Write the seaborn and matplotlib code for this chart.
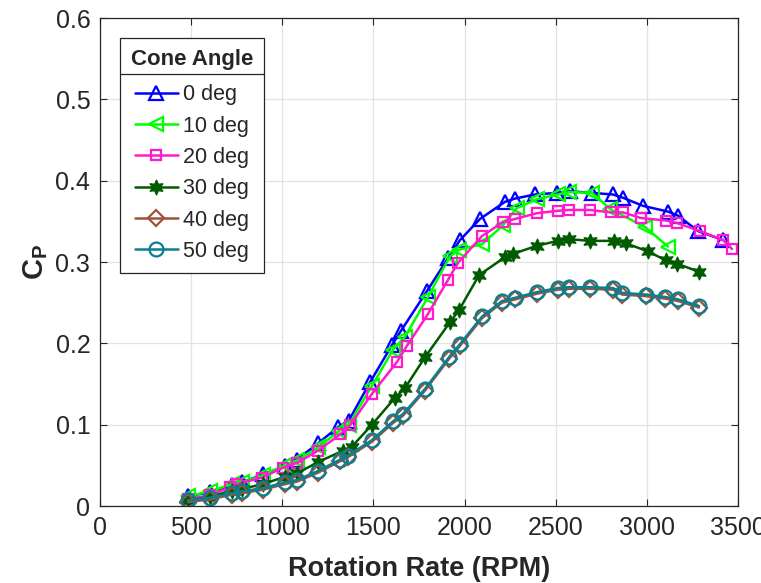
import matplotlib
matplotlib.use("Agg")
import matplotlib.pyplot as plt
import seaborn as sns
import numpy as np
import pandas as pd
from matplotlib.lines import Line2D

labels = ["0 deg", "10 deg", "20 deg", "30 deg", "40 deg", "50 deg"]

x_0 = [483, 603, 725, 780, 895, 1015, 1080, 1196, 1306, 1365, 1481, 1602, 1650, 1793, 1910, 1975,
       2085, 2222, 2277, 2386, 2507, 2578, 2699, 2814, 2869, 2979, 3116, 3171, 3281, 3418]
y_0 = [0.012, 0.017, 0.026, 0.029, 0.039, 0.049, 0.057, 0.077, 0.097, 0.105, 0.152, 0.198, 0.215, 0.264, 0.305, 0.327,
       0.353, 0.374, 0.378, 0.383, 0.385, 0.387, 0.385, 0.383, 0.379, 0.369, 0.362, 0.357, 0.338, 0.327]

x_10 = [483, 603, 725, 780, 895, 1015, 1080, 1196, 1310, 1365, 1490, 1607, 1673, 1799, 1920, 1970,
        2096, 2210, 2285, 2395, 2510, 2575, 2700, 2800, 2990, 3116]
y_10 = [0.012, 0.018, 0.027, 0.029, 0.038, 0.050, 0.056, 0.072, 0.092, 0.100, 0.147, 0.192, 0.208, 0.257, 0.307, 0.315,
        0.322, 0.345, 0.366, 0.377, 0.383, 0.386, 0.385, 0.365, 0.343, 0.319]

x_20 = [483, 603, 713, 752, 889, 1004, 1081, 1196, 1317, 1371, 1492, 1629, 1684, 1799, 1909, 1964,
        2096, 2211, 2277, 2397, 2512, 2573, 2688, 2803, 2869, 2968, 3105, 3165, 3291, 3418, 3467]
y_20 = [0.009, 0.013, 0.023, 0.027, 0.035, 0.047, 0.053, 0.068, 0.088, 0.099, 0.138, 0.177, 0.197, 0.236, 0.278, 0.299,
        0.332, 0.349, 0.353, 0.360, 0.363, 0.364, 0.364, 0.361, 0.361, 0.354, 0.351, 0.348, 0.338, 0.327, 0.316]

x_30 = [483, 603, 725, 780, 895, 1015, 1080, 1196, 1333, 1382, 1492, 1618, 1673, 1783, 1920, 1970,
        2080, 2222, 2266, 2397, 2512, 2573, 2688, 2820, 2885, 3006, 3105, 3165, 3286]
y_30 = [0.007, 0.011, 0.019, 0.021, 0.027, 0.036, 0.040, 0.054, 0.068, 0.073, 0.100, 0.133, 0.145, 0.183, 0.226, 0.241,
        0.284, 0.306, 0.310, 0.320, 0.326, 0.328, 0.326, 0.326, 0.323, 0.313, 0.302, 0.298, 0.288]

x_40 = [483, 603, 724, 779, 894, 1015, 1081, 1196, 1317, 1360, 1492, 1607, 1662, 1783, 1915, 1975,
        2096, 2205, 2277, 2397, 2512, 2573, 2688, 2814, 2864, 2995, 3100, 3171, 3286]
y_40 = [0.005, 0.008, 0.014, 0.016, 0.020, 0.027, 0.030, 0.041, 0.055, 0.060, 0.079, 0.102, 0.111, 0.142, 0.181, 0.197,
        0.231, 0.250, 0.254, 0.261, 0.266, 0.267, 0.267, 0.266, 0.260, 0.258, 0.255, 0.252, 0.244]

x_50 = [483, 603, 724, 779, 894, 1015, 1081, 1196, 1317, 1360, 1492, 1607, 1662, 1783, 1915, 1975,
        2096, 2205, 2277, 2397, 2512, 2573, 2688, 2814, 2864, 2995, 3100, 3171, 3286]
y_50 = [0.007, 0.010, 0.016, 0.018, 0.022, 0.029, 0.032, 0.043, 0.057, 0.062, 0.081, 0.104, 0.113, 0.144, 0.183, 0.199,
        0.233, 0.252, 0.256, 0.263, 0.268, 0.269, 0.269, 0.268, 0.262, 0.260, 0.257, 0.254, 0.246]

xs = [x_0, x_10, x_20, x_30, x_40, x_50]
ys = [y_0, y_10, y_20, y_30, y_40, y_50]

colors = ["#0000FF", "#00FF00", "#FF1ACC", "#005A00", "#A0523C", "#0A7F8F"]
markers = ["^", "<", "s", (6, 1, 0), "D", "o"]
msizes = [10, 10, 7.5, 11, 8, 10]

x_ticks = [0, 500, 1000, 1500, 2000, 2500, 3000, 3500]
y_ticks = [0, 0.1, 0.2, 0.3, 0.4, 0.5, 0.6]

sns.set_theme(style="whitegrid")
plt.rcParams["font.family"] = ["Liberation Sans", "DejaVu Sans"]
plt.rcParams["mathtext.fontset"] = "custom"
plt.rcParams["mathtext.rm"] = "Liberation Sans"
plt.rcParams["mathtext.bf"] = "Liberation Sans:bold"

fig = plt.figure(figsize=(7.61, 5.83), dpi=100)
ax = fig.add_axes([100 / 761, 1 - 506 / 583, 638 / 761, 488 / 583])

for i in range(6):
    df = pd.DataFrame({"x": xs[i], "y": ys[i]})
    filled = i == 3
    sns.lineplot(data=df, x="x", y="y", ax=ax, color=colors[i], marker=markers[i],
                 markersize=msizes[i], linewidth=1.8, label=labels[i],
                 markerfacecolor=colors[i] if filled else "none",
                 markeredgecolor=colors[i], markeredgewidth=1.6 if not filled else 0.8,
                 sort=False, estimator=None)

ax.set_xlim(0, 3500)
ax.set_ylim(0, 0.6)
ax.set_xticks(x_ticks)
ax.set_yticks(y_ticks)
ax.set_xticklabels([str(t) for t in x_ticks])
ax.set_yticklabels(["0" if t == 0 else f"{t:.1f}" for t in y_ticks])
ax.tick_params(axis="both", labelsize=18, colors="#262626", direction="in",
               length=5, width=0.8, top=True, right=True, bottom=True, left=True, pad=7)
ax.grid(True, color="#E3E3E3", linewidth=0.9)
for s in ax.spines.values():
    s.set_color("#262626")
    s.set_linewidth(0.9)
    s.set_visible(True)
ax.set_xlabel("Rotation Rate (RPM)", fontsize=19.5, fontweight="bold", color="#262626", labelpad=12)
ax.set_ylabel("$\\mathbf{C_P}$", fontsize=21, fontweight="bold", color="#262626", labelpad=4)

fs = 15.5
ls = 0.48
leg = ax.legend(loc="upper left", bbox_to_anchor=(20 / 638, 1 - 20 / 488), frameon=True,
                fancybox=False, framealpha=1, edgecolor="#262626", fontsize=fs,
                title="Cone Angle", handlelength=2.0, handletextpad=0.25, labelspacing=ls,
                borderpad=0.5, borderaxespad=0)
leg.get_title().set_fontweight("bold")
leg.get_title().set_fontsize(16)
leg.get_frame().set_linewidth(0.9)
leg._legend_box.sep = ls * fs + 3

fig.canvas.draw()
r = fig.canvas.get_renderer()
fb = leg.get_frame().get_window_extent(r)
tb = leg.get_title().get_window_extent(r)
yline = tb.y0 - 4
inv = fig.transFigure.inverted()
(x0f, yf), (x1f, _) = inv.transform([(fb.x0, yline), (fb.x1, yline)])
fig.add_artist(Line2D([x0f, x1f], [yf, yf], color="#262626", linewidth=0.9))

fig.savefig("out.png", dpi=100)
